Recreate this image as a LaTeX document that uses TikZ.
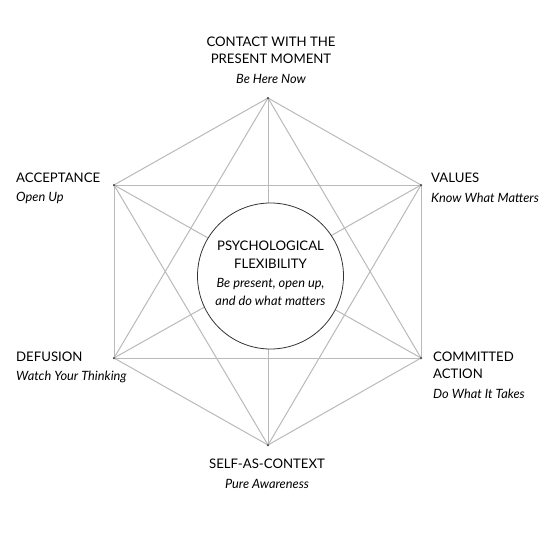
\documentclass[tikz,border=0pt]{standalone}
\usepackage{fontspec}
\setmainfont{Lato}
\begin{document}
\begin{tikzpicture}[x=1pt,y=-1pt,
  edge/.style={draw=black!27, line width=1pt},
  vdot/.style={circle, fill=black!70, inner sep=0pt, minimum size=2.5pt},
  lbl/.style={font=\fontsize{13.2}{17}\selectfont, text=black, inner sep=0pt},
  sub/.style={font=\fontsize{12.8}{15}\selectfont\itshape, text=black, inner sep=0pt},
  hub/.style={circle, draw=black!80, fill=white, line width=0.8pt, minimum size=146pt, inner sep=0pt}]
\useasboundingbox (0,0) rectangle (550,544);
\fill[white] (0,0) rectangle (550,544);
% vertices
\coordinate (T)  at (268,98);
\coordinate (UL) at (114,185);
\coordinate (UR) at (421,185);
\coordinate (LL) at (114,358);
\coordinate (LR) at (421,358);
\coordinate (B)  at (268,445);
% all connections
\foreach \a/\b in {T/UL,UL/LL,LL/B,B/LR,LR/UR,UR/T,T/LL,T/LR,UL/B,UR/B,UL/UR,LL/LR,T/B,UL/LR,UR/LL}
  \draw[edge] (\a) -- (\b);
\foreach \v in {T,UL,UR,LL,LR,B} \node[vdot] at (\v) {};
% hub
\node[hub] (hub) at (270.5,276) {};
\node[lbl] (hubA) at (270.5,246) {PSYCHOLOGICAL};
\node[lbl] (hubB) at (270.5,264) {FLEXIBILITY};
\node[sub] (hubC) at (270.5,284) {Be present, open up,};
\node[sub] (hubD) at (270.5,301) {and do what matters};
% top
\node[lbl] (tA) at (271,42) {CONTACT WITH THE};
\node[lbl] (tB) at (271,59) {PRESENT MOMENT};
\node[sub] (tC) at (271,79) {Be Here Now};
% acceptance
\node[lbl, anchor=west] (ulA) at (16,178) {ACCEPTANCE};
\node[sub, anchor=west] (ulB) at (16,198) {Open Up};
% values
\node[lbl, anchor=west] (urA) at (431,178) {VALUES};
\node[sub, anchor=west] (urB) at (431,198) {Know What Matters};
% defusion
\node[lbl, anchor=west] (llA) at (16,357) {DEFUSION};
\node[sub, anchor=west] (llB) at (16,377) {Watch Your Thinking};
% committed action
\node[lbl, anchor=west] (lrA) at (433,357) {COMMITTED};
\node[lbl, anchor=west] (lrB) at (433,374) {ACTION};
\node[sub, anchor=west] (lrC) at (433,394) {Do What It Takes};
% self as context
\node[lbl] (bA) at (267,464) {SELF-AS-CONTEXT};
\node[sub] (bB) at (267,484) {Pure Awareness};
\end{tikzpicture}
\end{document}
